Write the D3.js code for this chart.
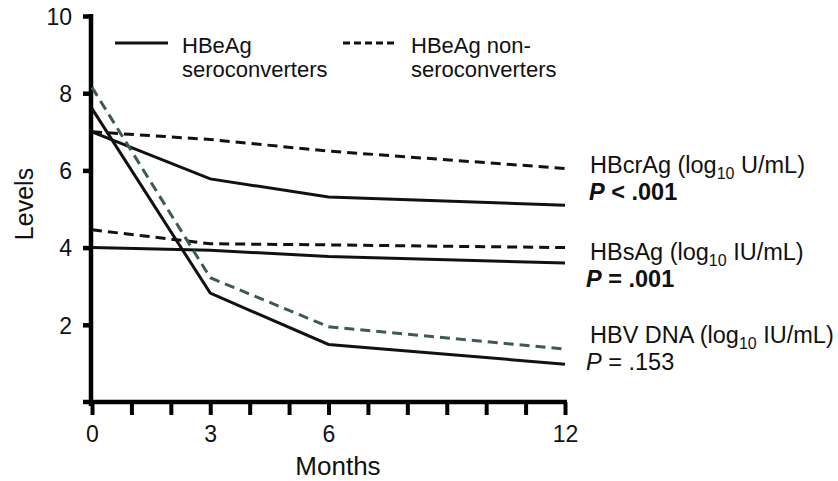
<!DOCTYPE html>
<html>
<head>
<meta charset="utf-8">
<script src="https://cdn.jsdelivr.net/npm/d3@7"></script>
<style>
  html, body { margin: 0; padding: 0; background: #fff; }
  svg { display: block; }
  text { font-family: "Liberation Sans", Arial, Helvetica, sans-serif; fill: #111; }
</style>
</head>
<body>
<svg id="chart" width="838" height="481"></svg>
<script>
// Follow-up time points (months)
const months = [0, 3, 6, 12];

// Marker levels over time
const hbcragSero    = [7.0, 5.78, 5.31, 5.1];
const hbcragNonSero = [7.0, 6.8, 6.5, 6.05];
const hbsagSero     = [4.0, 3.93, 3.77, 3.6];
const hbsagNonSero  = [4.46, 4.1, 4.07, 4.0];
const dnaSero       = [7.6, 2.82, 1.49, 0.98];
const dnaNonSero    = [8.15, 3.22, 1.95, 1.37];

// Axis ticks
const xTickValues = d3.range(0, 13);
const xTickLabels = [0, 3, 6, 12];
const yTickValues = [2, 4, 6, 8, 10];

// Legend entries and right-hand marker labels
const legendItems = [
  { lines: ["HBeAg", "seroconverters"], dashed: false },
  { lines: ["HBeAg non-", "seroconverters"], dashed: true }
];
const markerLabels = [
  { name: "HBcrAg (log", unit: " U/mL)", p: "< .001", bold: true },
  { name: "HBsAg (log", unit: " IU/mL)", p: "= .001", bold: true },
  { name: "HBV DNA (log", unit: " IU/mL)", p: "= .153", bold: false }
];

const series = [
  { values: hbcragSero,    dashed: false, color: "#111" },
  { values: hbcragNonSero, dashed: true,  color: "#111" },
  { values: hbsagSero,     dashed: false, color: "#111" },
  { values: hbsagNonSero,  dashed: true,  color: "#111" },
  { values: dnaSero,       dashed: false, color: "#111" },
  { values: dnaNonSero,    dashed: true,  color: "#3d5b52" }
];

const svg = d3.select("#chart");
const x = d3.scaleLinear().domain([0, 12]).range([92, 565]);
const y = d3.scaleLinear().domain([0, 10]).range([402, 16]);

// Axis lines
svg.append("line")
  .attr("x1", x(0) - 1).attr("x2", x(0) - 1)
  .attr("y1", y(10) - 2).attr("y2", y(0) + 4)
  .attr("stroke", "#000").attr("stroke-width", 4.5);
svg.append("line")
  .attr("x1", x(0) - 9).attr("x2", x(12) + 2)
  .attr("y1", y(0)).attr("y2", y(0))
  .attr("stroke", "#000").attr("stroke-width", 4.5);

// X axis: a tick every month, labels on the follow-up visits
const xAxis = d3.axisBottom(x)
  .tickValues(xTickValues)
  .tickSize(13)
  .tickSizeOuter(0)
  .tickFormat(d => xTickLabels.includes(d) ? d : "");
const gx = svg.append("g").attr("transform", `translate(0,${y(0)})`).call(xAxis);
gx.select(".domain").remove();
gx.selectAll(".tick line").attr("stroke", "#000").attr("stroke-width", 4);
gx.selectAll(".tick text")
  .attr("y", 24).attr("dy", "0.71em")
  .style("font-size", "23px").attr("fill", "#111");

// Y axis
const yAxis = d3.axisLeft(y)
  .tickValues(yTickValues)
  .tickSize(8)
  .tickSizeOuter(0);
const gy = svg.append("g").attr("transform", `translate(${x(0) - 1},0)`).call(yAxis);
gy.select(".domain").remove();
gy.selectAll(".tick line").attr("stroke", "#000").attr("stroke-width", 4.5);
gy.selectAll(".tick text")
  .attr("x", -19).attr("dy", "0.36em")
  .style("font-size", "23px").attr("fill", "#111");

// Axis titles
svg.append("text")
  .attr("transform", "translate(33,204) rotate(-90)")
  .attr("text-anchor", "middle")
  .style("font-size", "25px")
  .text("Levels");
svg.append("text")
  .attr("x", 338).attr("y", 475)
  .attr("text-anchor", "middle")
  .style("font-size", "26px")
  .text("Months");

// Lines
const line = d3.line().x((d, i) => x(months[i])).y(d => y(d));
svg.append("g").selectAll("path")
  .data(series)
  .join("path")
  .attr("d", d => line(d.values))
  .attr("fill", "none")
  .attr("stroke", d => d.color)
  .attr("stroke-width", 3)
  .attr("stroke-dasharray", d => d.dashed ? "10,6" : null);

// Legend
const legend = svg.append("g");
legendItems.forEach((item, i) => {
  const lx = i === 0 ? 115 : 343;
  legend.append("line")
    .attr("x1", lx).attr("x2", lx + 53)
    .attr("y1", 43).attr("y2", 43)
    .attr("stroke", "#111").attr("stroke-width", 3)
    .attr("stroke-dasharray", item.dashed ? "7,4" : null);
  const t = legend.append("text")
    .attr("x", lx + (i === 0 ? 67 : 68)).attr("y", 53)
    .style("font-size", "22px");
  item.lines.forEach((s, k) => {
    t.append("tspan").attr("x", lx + (i === 0 ? 67 : 68)).attr("dy", k === 0 ? 0 : 24).text(s);
  });
});

// Marker labels with P values
const labelY = [173, 260, 343];
markerLabels.forEach((m, i) => {
  const t = svg.append("text")
    .attr("x", 590).attr("y", labelY[i])
    .style("font-size", "23.5px");
  t.append("tspan").text(m.name);
  t.append("tspan").attr("dy", 6).style("font-size", "16px").text("10");
  t.append("tspan").attr("dy", -6).text(m.unit);

  const p = svg.append("text")
    .attr("x", i === 0 ? 589 : 586).attr("y", labelY[i] + 27)
    .style("font-size", "23.5px")
    .style("font-weight", m.bold ? "bold" : "normal");
  p.append("tspan").style("font-style", "italic").text("P");
  p.append("tspan").text(" " + m.p);
});
</script>
</body>
</html>
